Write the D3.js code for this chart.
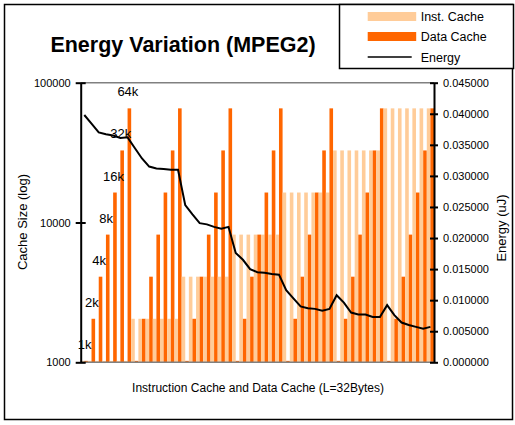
<!doctype html>
<meta charset="utf-8">
<style>
body { margin: 0; background: #fff; }
svg { font-family: Arial, "Liberation Sans", sans-serif; }
.tick text { font-size: 11px; fill: #000; }
</style>
<div id="chart"></div>
<script src="https://d3js.org/d3.v7.min.js"></script>
<script>
// cache sizes (bytes) per configuration: I-cache outer loop, D-cache inner loop
var instCache = [
  1024, 1024, 1024, 1024, 1024, 1024, 1024,
  2048, 2048, 2048, 2048, 2048, 2048, 2048,
  4096, 4096, 4096, 4096, 4096, 4096, 4096,
  8192, 8192, 8192, 8192, 8192, 8192, 8192,
  16384, 16384, 16384, 16384, 16384, 16384, 16384,
  32768, 32768, 32768, 32768, 32768, 32768, 32768,
  65536, 65536, 65536, 65536, 65536, 65536, 65536
];
var dataCache = [
  1024, 2048, 4096, 8192, 16384, 32768, 65536,
  1024, 2048, 4096, 8192, 16384, 32768, 65536,
  1024, 2048, 4096, 8192, 16384, 32768, 65536,
  1024, 2048, 4096, 8192, 16384, 32768, 65536,
  1024, 2048, 4096, 8192, 16384, 32768, 65536,
  1024, 2048, 4096, 8192, 16384, 32768, 65536,
  1024, 2048, 4096, 8192, 16384, 32768, 65536
];
var energy = [
  0.0398, 0.0384, 0.0370, 0.0367, 0.0365, 0.0361, 0.0362,
  0.0345, 0.0328, 0.0315, 0.0312, 0.0311, 0.0310, 0.0310,
  0.0253, 0.0238, 0.0224, 0.0222, 0.0218, 0.0215, 0.0218,
  0.0176, 0.0165, 0.0150, 0.0145, 0.0144, 0.0142, 0.0141,
  0.0116, 0.0103, 0.0090, 0.0087, 0.0086, 0.0083, 0.0086,
  0.0108, 0.0096, 0.0080, 0.0077, 0.0077, 0.0073, 0.0073,
  0.0092, 0.0076, 0.0064, 0.0060, 0.0057, 0.0054, 0.0057
];
var sizeLabels = ["1k", "2k", "4k", "8k", "16k", "32k", "64k"];
var leftTicks = [1000, 10000, 100000];
var rightTicks = [0, 0.005, 0.01, 0.015, 0.02, 0.025, 0.03, 0.035, 0.04, 0.045];

const W = 515, H = 425;
const plotL = 80.7, plotR = 434, plotT = 82.7, plotB = 362.3;

let svg = d3.select("#chart").append("svg")
  .attr("width", W).attr("height", H);

// outer frame
svg.append("rect")
  .attr("x", 4.5).attr("y", 4.5).attr("width", 508).attr("height", 415)
  .attr("fill", "#fff").attr("stroke", "#000").attr("stroke-width", 1.5);

let idx = d3.range(energy.length);
let x0 = d3.scaleBand().domain(idx).range([plotL, plotR]).padding(0);
let x1 = d3.scaleBand().domain(["inst", "data"]).range([0, x0.bandwidth()]);
let y = d3.scaleLog().domain([1000, 100000]).range([plotB, plotT]);
let yE = d3.scaleLinear().domain([0, 0.045]).range([plotB, plotT]);

// top gridline
svg.append("line")
  .attr("x1", plotL).attr("x2", plotR).attr("y1", y(100000)).attr("y2", y(100000))
  .attr("stroke", "#808080").attr("stroke-width", 1.5);

let groups = svg.append("g").selectAll("g")
  .data(idx).join("g")
  .attr("transform", i => "translate(" + x0(i) + ",0)");

groups.append("rect")
  .attr("x", x1("inst")).attr("width", x1.bandwidth())
  .attr("y", i => y(instCache[i]))
  .attr("height", i => y(1000) - y(instCache[i]))
  .attr("fill", "#FFCC99");

groups.append("rect")
  .attr("x", x1("data")).attr("width", x1.bandwidth())
  .attr("y", i => y(dataCache[i]))
  .attr("height", i => y(1000) - y(dataCache[i]))
  .attr("fill", "#FF6600");

// bottom axis line
svg.append("line")
  .attr("x1", plotL).attr("x2", plotR).attr("y1", plotB).attr("y2", plotB)
  .attr("stroke", "#808080").attr("stroke-width", 1.5);

// energy line
let line = d3.line()
  .x((d, i) => x0(i) + x0.bandwidth() / 2)
  .y(d => yE(d));
svg.append("path")
  .datum(energy)
  .attr("d", line)
  .attr("fill", "none").attr("stroke", "#000").attr("stroke-width", 2);

// data labels on first group's data cache bars
svg.append("g").selectAll("text")
  .data(sizeLabels).join("text")
  .attr("x", (d, i) => x0(i) + x1("data") + x1.bandwidth() / 2 - 1.5)
  .attr("y", (d, i) => y(dataCache[i]) - 12)
  .attr("text-anchor", "middle")
  .attr("font-size", 13)
  .text(d => d);

// left axis
let yAxis = d3.axisLeft(y).tickValues(leftTicks)
  .tickFormat(d3.format("d")).tickSize(5).tickPadding(5).tickSizeOuter(0);
let gl = svg.append("g").attr("transform", "translate(" + plotL + ",0)").call(yAxis);
gl.select(".domain").attr("stroke-width", 2);
gl.selectAll(".tick line").attr("x1", -5).attr("x2", 5).attr("stroke-width", 2);

// right axis
let eAxis = d3.axisRight(yE).tickValues(rightTicks)
  .tickFormat(d3.format(".6f")).tickSize(4).tickPadding(5).tickSizeOuter(0);
let gr = svg.append("g").attr("transform", "translate(" + plotR + ",0)").call(eAxis);
gr.select(".domain").attr("stroke-width", 2);
gr.selectAll(".tick line").attr("x1", -4).attr("x2", 4).attr("stroke-width", 2);

// title and axis titles
svg.append("text")
  .attr("x", 183).attr("y", 52).attr("text-anchor", "middle")
  .attr("font-size", 21.5).attr("font-weight", "bold")
  .text("Energy Variation (MPEG2)");

svg.append("text")
  .attr("transform", "translate(27,222) rotate(-90)")
  .attr("text-anchor", "middle").attr("font-size", 13)
  .text("Cache Size (log)");

svg.append("text")
  .attr("transform", "translate(506,228) rotate(-90)")
  .attr("text-anchor", "middle").attr("font-size", 13)
  .text("Energy (uJ)");

svg.append("text")
  .attr("x", 258).attr("y", 392).attr("text-anchor", "middle")
  .attr("font-size", 12)
  .text("Instruction Cache and Data Cache (L=32Bytes)");

// legend
let lg = svg.append("g");
lg.append("rect")
  .attr("x", 339.5).attr("y", 4.5).attr("width", 174).attr("height", 64)
  .attr("fill", "#fff").attr("stroke", "#000").attr("stroke-width", 1.5);
let legendItems = [
  {name: "Inst. Cache", color: "#FFCC99", type: "bar"},
  {name: "Data Cache", color: "#FF6600", type: "bar"},
  {name: "Energy", color: "#000", type: "line"}
];
let li = lg.selectAll("g.item").data(legendItems).join("g")
  .attr("class", "item")
  .attr("transform", (d, i) => "translate(0," + [16.5, 36.5, 57][i] + ")");
li.filter(d => d.type == "bar").append("rect")
  .attr("x", 367.7).attr("y", -4.5).attr("width", 48.5).attr("height", 9)
  .attr("fill", d => d.color);
li.filter(d => d.type == "line").append("line")
  .attr("x1", 367.7).attr("x2", 411.7).attr("y1", 0).attr("y2", 0)
  .attr("stroke", "#000").attr("stroke-width", 1.5);
li.append("text")
  .attr("x", 420.7).attr("y", 4.5).attr("font-size", 12.5)
  .text(d => d.name);
</script>
